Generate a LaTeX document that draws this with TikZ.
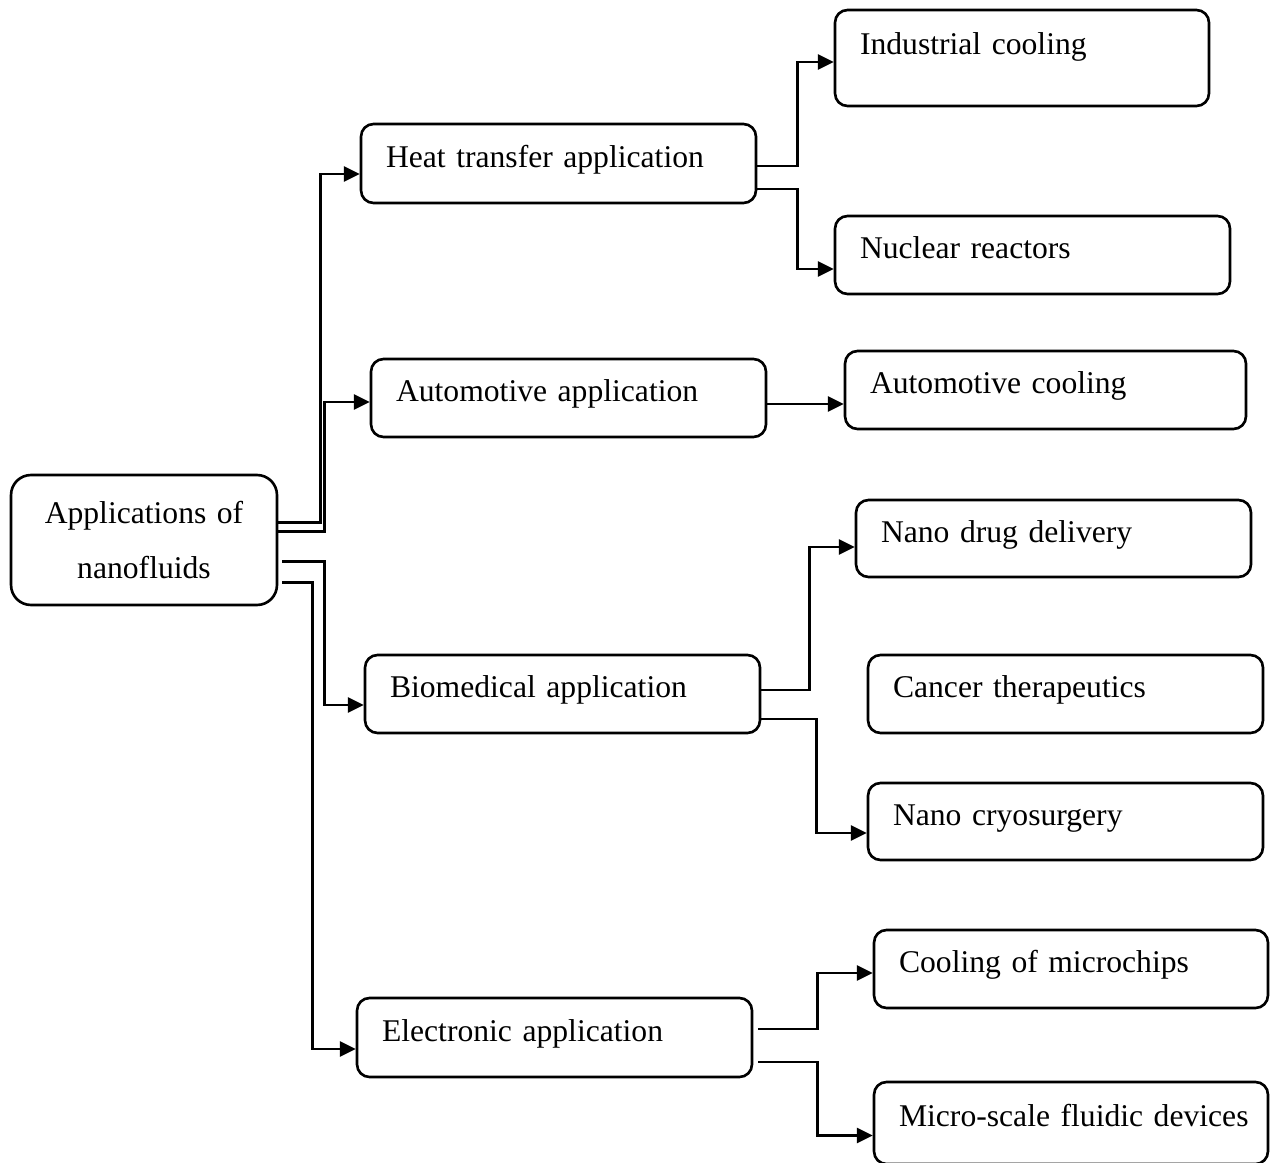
\documentclass[tikz,border=0pt]{standalone}
\usepackage{fontspec}
\setmainfont{Liberation Serif}
\usetikzlibrary{arrows.meta,calc}

\tikzset{
  box/.style={draw, line width=1.5pt, rounded corners=0.25cm, align=left,
    inner xsep=0.5cm, text height=12.5pt, text depth=8.5pt,
    font=\fontsize{18}{20}\selectfont, text width=#1},
  conn/.style={line width=1.6pt, -{Triangle[length=9pt,width=8.5pt]}}
}

\begin{document}
\begin{tikzpicture}[x=0.02cm, y=-0.02cm]
    \useasboundingbox (0,0) rectangle (1270,1162);

    % Root
    \node[draw, line width=1.5pt, rounded corners=0.4cm, align=center, text width=4.32cm,
          inner xsep=0.5cm, minimum height=2.6cm, font=\fontsize{18}{31}\selectfont] (root) at (144,540)
          {Applications of\\nanofluids};

    % Second level
    \node[box=6.9cm, minimum height=1.58cm] (heat) at (558.5,163.5) {Heat transfer application};
    \node[box=6.9cm, minimum height=1.56cm] (auto) at (568.5,398) {Automotive application};
    \node[box=6.9cm, minimum height=1.56cm] (bio) at (562.5,694) {Biomedical application};
    \node[box=6.9cm, minimum height=1.58cm] (elec) at (554.5,1037.5) {Electronic application};

    % Third level
    \node[box=6.48cm, minimum height=1.92cm, text depth=16pt] (ind) at (1022,58) {Industrial cooling};
    \node[box=6.9cm, minimum height=1.56cm] (nuc) at (1032.5,255) {Nuclear reactors};
    \node[box=7.02cm, minimum height=1.56cm] (autocool) at (1045.5,390) {Automotive cooling};
    \node[box=6.9cm, minimum height=1.54cm] (drug) at (1053.5,538.5) {Nano drug delivery};
    \node[box=6.9cm, minimum height=1.56cm] (cancer) at (1065.5,694) {Cancer therapeutics};
    \node[box=6.9cm, minimum height=1.54cm] (cryo) at (1065.5,821.5) {Nano cryosurgery};
    \node[box=6.88cm, minimum height=1.56cm] (chips) at (1071,969) {Cooling of microchips};
    \node[box=6.88cm, minimum height=1.64cm] (micro) at (1071,1123) {\mbox{Micro-scale fluidic devices}};

    % Root to second level
    \draw[conn] ($(root.east)+(0,-17.5)$) -- ++(42,0) |- ($(heat.west)+(0,10.5)$);
    \draw[conn] ($(root.east)+(0,-8.5)$) -- ++(46,0) |- ($(auto.west)+(0,4)$);
    \draw[conn] ($(root.east)+(4,21.5)$) -- ++(42,0) |- ($(bio.west)+(0,11)$);
    \draw[conn] ($(root.east)+(4,42.5)$) -- ++(30,0) |- ($(elec.west)+(0,11.5)$);

    % Second to third level
    \draw[conn] ($(heat.east)+(0,2.5)$) -- ++(40,0) |- ($(ind.west)+(0,4)$);
    \draw[conn] ($(heat.east)+(0,25.5)$) -- ++(40,0) |- ($(nuc.west)+(0,14)$);
    \draw[conn] ($(auto.east)+(0,6)$) -- ($(autocool.west)+(0,14)$);
    \draw[conn] ($(bio.east)+(0,-4)$) -- ++(48,0) |- ($(drug.west)+(0,8.5)$);
    \draw[conn] ($(bio.east)+(0,25)$) -- ++(55,0) |- ($(cryo.west)+(0,11.5)$);
    \draw[conn] ($(elec.east)+(5,-8.5)$) -- ++(59,0) |- ($(chips.west)+(0,4)$);
    \draw[conn] ($(elec.east)+(5,24.5)$) -- ++(59,0) |- ($(micro.west)+(0,12.5)$);
\end{tikzpicture}
\end{document}
